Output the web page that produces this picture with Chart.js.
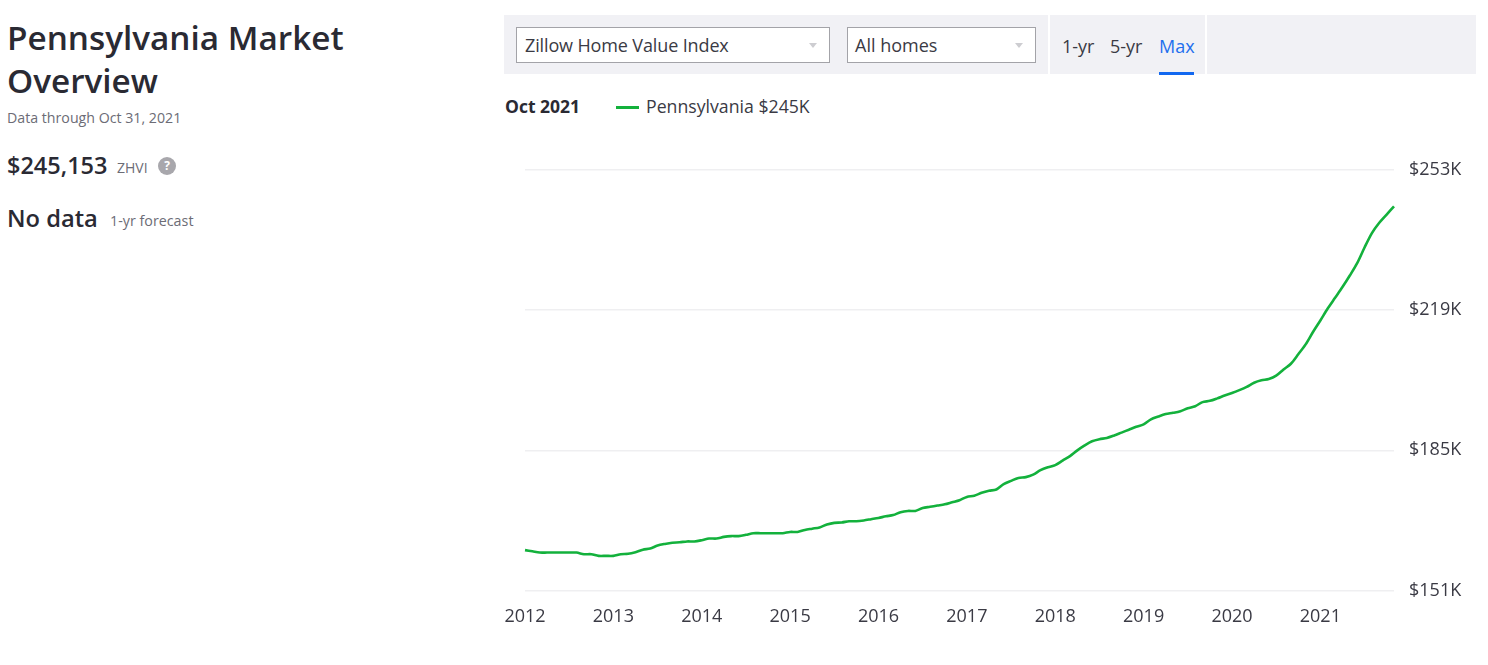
<!DOCTYPE html>
<html>
<head>
<meta charset="utf-8">
<title>Pennsylvania Market Overview</title>
<script src="https://cdn.jsdelivr.net/npm/chart.js@4"></script>
<style>
    html, body { margin: 0; padding: 0; background: #fff; overflow: hidden; }
    body { width: 1488px; height: 665px; position: relative; font-family: "Open Sans", sans-serif; color: #2a2a33; }
    .t { position: absolute; white-space: nowrap; }
    .box { position: absolute; box-sizing: border-box; }
    .select { background: #fff; border: 1.5px solid #a3a3a8; top: 27px; height: 36px; }
    .caret { position: absolute; top: 43px; width: 0; height: 0; border-left: 4.5px solid transparent; border-right: 4.5px solid transparent; border-top: 5px solid #cdcdd1; }
    canvas { position: absolute; left: 500px; top: 150px; }
</style>
</head>
<body>
    <div class="t" id="title" style="left:7px;top:16px;font-size:33.3px;line-height:43px;font-weight:600">Pennsylvania Market<br>Overview</div>
    <div class="t" style="left:7px;top:108px;font-size:14.2px;line-height:20px;color:#6c6c76">Data through Oct 31, 2021</div>
    <div class="t" style="left:7px;top:149px;font-size:23.5px;line-height:32px;font-weight:600">$245,153</div>
    <div class="t" style="left:117px;top:158px;font-size:14px;line-height:20px;color:#6c6c76">ZHVI</div>
    <div class="box" style="left:158px;top:157px;width:18px;height:18px;border-radius:50%;background:#a8a7ac;color:#fff;font-size:12px;line-height:18px;text-align:center;font-weight:700">?</div>
    <div class="t" style="left:7px;top:202px;font-size:23.7px;line-height:32px;font-weight:600">No data</div>
    <div class="t" style="left:110px;top:211px;font-size:14.3px;line-height:20px;color:#6c6c76">1-yr forecast</div>

    <div class="box" style="left:504px;top:15px;width:972px;height:59px;background:#f1f1f5"></div>
    <div class="box" style="left:1048px;top:15px;width:1.5px;height:59px;background:#fff"></div>
    <div class="box" style="left:1205px;top:15px;width:1.5px;height:59px;background:#fff"></div>
    <div class="box select" style="left:516px;width:314px"></div>
    <div class="t" style="left:525px;top:33px;font-size:18px;line-height:25px;letter-spacing:-0.13px;color:#3a3a44">Zillow Home Value Index</div>
    <div class="caret" style="left:809px"></div>
    <div class="box select" style="left:847px;width:189px"></div>
    <div class="t" style="left:855px;top:33px;font-size:18px;line-height:25px;color:#3a3a44">All homes</div>
    <div class="caret" style="left:1015px"></div>
    <div class="t" style="left:1062px;top:34px;font-size:18px;line-height:25px;color:#3a3a44">1-yr</div>
    <div class="t" style="left:1110px;top:34px;font-size:18px;line-height:25px;color:#3a3a44">5-yr</div>
    <div class="t" style="left:1159px;top:34px;font-size:18px;line-height:25px;color:#1f6fee">Max</div>
    <div class="box" style="left:1159px;top:72px;width:35px;height:3px;background:#1268f0"></div>

    <div class="t" style="left:505px;top:94px;font-size:17.5px;line-height:24px;font-weight:700">Oct 2021</div>
    <div class="box" style="left:616px;top:106px;width:23px;height:2.5px;background:#13b13c"></div>
    <div class="t" style="left:646px;top:94px;font-size:17.7px;line-height:24px;color:#3a3a44">Pennsylvania $245K</div>

    <canvas id="zhviChart" width="988" height="490" style="width:988px;height:490px"></canvas>

<script>
const categories = [
    'Dec 2011',
    'Jan 2012', 'Feb 2012', 'Mar 2012', 'Apr 2012', 'May 2012', 'Jun 2012', 'Jul 2012', 'Aug 2012', 'Sep 2012', 'Oct 2012', 'Nov 2012', 'Dec 2012',
    'Jan 2013', 'Feb 2013', 'Mar 2013', 'Apr 2013', 'May 2013', 'Jun 2013', 'Jul 2013', 'Aug 2013', 'Sep 2013', 'Oct 2013', 'Nov 2013', 'Dec 2013',
    'Jan 2014', 'Feb 2014', 'Mar 2014', 'Apr 2014', 'May 2014', 'Jun 2014', 'Jul 2014', 'Aug 2014', 'Sep 2014', 'Oct 2014', 'Nov 2014', 'Dec 2014',
    'Jan 2015', 'Feb 2015', 'Mar 2015', 'Apr 2015', 'May 2015', 'Jun 2015', 'Jul 2015', 'Aug 2015', 'Sep 2015', 'Oct 2015', 'Nov 2015', 'Dec 2015',
    'Jan 2016', 'Feb 2016', 'Mar 2016', 'Apr 2016', 'May 2016', 'Jun 2016', 'Jul 2016', 'Aug 2016', 'Sep 2016', 'Oct 2016', 'Nov 2016', 'Dec 2016',
    'Jan 2017', 'Feb 2017', 'Mar 2017', 'Apr 2017', 'May 2017', 'Jun 2017', 'Jul 2017', 'Aug 2017', 'Sep 2017', 'Oct 2017', 'Nov 2017', 'Dec 2017',
    'Jan 2018', 'Feb 2018', 'Mar 2018', 'Apr 2018', 'May 2018', 'Jun 2018', 'Jul 2018', 'Aug 2018', 'Sep 2018', 'Oct 2018', 'Nov 2018', 'Dec 2018',
    'Jan 2019', 'Feb 2019', 'Mar 2019', 'Apr 2019', 'May 2019', 'Jun 2019', 'Jul 2019', 'Aug 2019', 'Sep 2019', 'Oct 2019', 'Nov 2019', 'Dec 2019',
    'Jan 2020', 'Feb 2020', 'Mar 2020', 'Apr 2020', 'May 2020', 'Jun 2020', 'Jul 2020', 'Aug 2020', 'Sep 2020', 'Oct 2020', 'Nov 2020', 'Dec 2020',
    'Jan 2021', 'Feb 2021', 'Mar 2021', 'Apr 2021', 'May 2021', 'Jun 2021', 'Jul 2021', 'Aug 2021', 'Sep 2021', 'Oct 2021'
];

// thousands of dollars
const pennsylvaniaValues = [
    160.8,
    160.5, 160.2, 160.2, 160.2, 160.2, 160.2, 160.2, 159.8, 159.8, 159.4, 159.4, 159.4,
    159.8, 159.9, 160.3, 160.9, 161.2, 161.9, 162.3, 162.6, 162.7, 162.9, 162.9, 163.2,
    163.6, 163.6, 164.0, 164.2, 164.2, 164.5, 164.9, 164.9, 164.9, 164.9, 164.9, 165.2,
    165.2, 165.7, 166.0, 166.3, 167.0, 167.4, 167.5, 167.8, 167.8, 168.0, 168.3, 168.6,
    169.0, 169.3, 170.0, 170.3, 170.3, 171.0, 171.3, 171.6, 171.9, 172.4, 172.9, 173.7,
    174.0, 174.7, 175.2, 175.5, 176.8, 177.6, 178.3, 178.5, 179.1, 180.2, 180.9, 181.4,
    182.5, 183.6, 185.0, 186.2, 187.2, 187.7, 188.0, 188.6, 189.3, 190.0, 190.7, 191.3,
    192.5, 193.2, 193.8, 194.1, 194.5, 195.2, 195.7, 196.7, 197.0, 197.6, 198.3, 198.9,
    199.6, 200.4, 201.4, 202.0, 202.3, 203.1, 204.6, 206.0, 208.3, 210.7, 213.7, 216.5,
    219.4, 222.0, 224.6, 227.4, 230.4, 234.2, 237.7, 240.2, 242.2, 244.2
];

const yearTickLabels = ['2012', '2013', '2014', '2015', '2016', '2017', '2018', '2019', '2020', '2021'];
const yTickValues = [151, 185, 219, 253];

const ctx = document.getElementById('zhviChart').getContext('2d');
new Chart(ctx, {
    type: 'line',
    data: {
        labels: categories,
        datasets: [{
            label: 'Pennsylvania',
            data: pennsylvaniaValues,
            borderColor: '#13b13c',
            borderWidth: 2.6,
            pointRadius: 0,
            tension: 0.3,
            fill: false
        }]
    },
    options: {
        responsive: false,
        animation: false,
        layout: { padding: { left: 25, top: 20, right: 0, bottom: 0 } },
        plugins: { legend: { display: false }, tooltip: { enabled: false } },
        scales: {
            x: {
                offset: false,
                grid: { display: false },
                border: { display: false },
                afterFit: (axis) => { axis.height = 49.5; axis.paddingLeft = 0; axis.paddingRight = 0; },
                ticks: {
                    autoSkip: false,
                    maxRotation: 0,
                    padding: 8,
                    color: '#3a3a44',
                    font: { family: '"Open Sans"', size: 18 },
                    callback: (value, index) => index % 12 === 0 ? yearTickLabels[index / 12] : ''
                }
            },
            y: {
                position: 'right',
                min: 151,
                max: 253,
                afterBuildTicks: (axis) => { axis.ticks = yTickValues.map(v => ({ value: v })); },
                afterFit: (axis) => { axis.width = 94; axis.paddingTop = 0; axis.paddingBottom = 0; },
                grid: { color: '#efeff1', lineWidth: 1.5, drawTicks: false },
                border: { display: false },
                ticks: {
                    padding: 15,
                    color: '#3a3a44',
                    font: { family: '"Open Sans"', size: 18 },
                    callback: (value) => `$${value}K`
                }
            }
        }
    }
});
</script>
</body>
</html>
